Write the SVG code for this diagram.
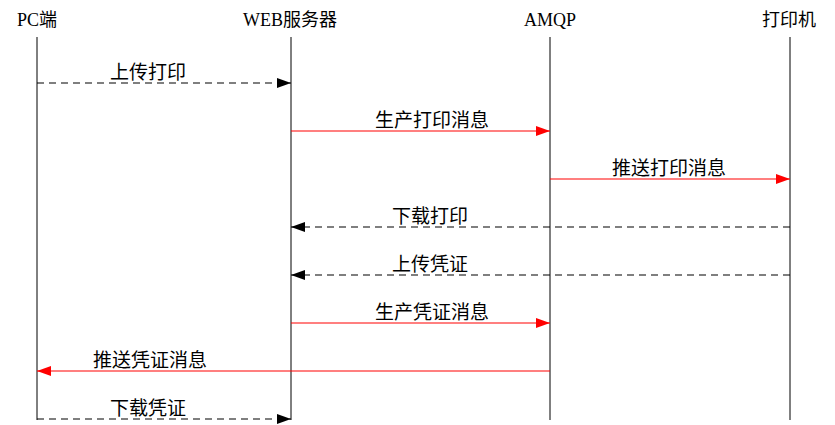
<svg xmlns="http://www.w3.org/2000/svg" width="835" height="425" viewBox="0 0 835 425">
<style>
.hdr{font-family:"Liberation Serif","Noto Sans CJK SC",serif;font-size:18px;fill:#000;text-anchor:middle}
.lbl{font-family:"Liberation Sans","Noto Sans CJK SC",sans-serif;font-size:19px;fill:#000}
.life{stroke:#000;stroke-width:1;fill:none}
.dash{stroke:#000;stroke-width:1.2;stroke-dasharray:7,5;fill:none}
.solid{stroke:#f00;stroke-width:1.1;fill:none}
</style>
<defs>
<marker id="ab" markerWidth="14" markerHeight="10" refX="14" refY="5" orient="auto" markerUnits="userSpaceOnUse"><path d="M0,0 L14,5 L0,10 Z" fill="#000"/></marker>
<marker id="ar" markerWidth="14" markerHeight="10" refX="14" refY="5" orient="auto" markerUnits="userSpaceOnUse"><path d="M0,0 L14,5 L0,10 Z" fill="#f00"/></marker>
</defs>
<rect width="835" height="425" fill="#fff"/>
<g id="pc"><text class="hdr" x="37" y="26">PC端</text><line class="life" x1="37" y1="37" x2="37" y2="420"/></g>
<g id="web"><text class="hdr" x="290" y="26">WEB服务器</text><line class="life" x1="291" y1="37" x2="291" y2="420"/></g>
<g id="amqp"><text class="hdr" x="550" y="26">AMQP</text><line class="life" x1="550" y1="37" x2="550" y2="420"/></g>
<g id="printer"><text class="hdr" x="789" y="26">打印机</text><line class="life" x1="790" y1="37" x2="790" y2="420"/></g>
<g id="connectors">
<line class="dash" x1="37" y1="83" x2="291" y2="83" marker-end="url(#ab)"/>
<text class="lbl" x="110" y="79">上传打印</text>
<line class="solid" x1="291" y1="131" x2="550" y2="131" marker-end="url(#ar)"/>
<text class="lbl" x="375" y="127">生产打印消息</text>
<line class="solid" x1="550" y1="179" x2="790" y2="179" marker-end="url(#ar)"/>
<text class="lbl" x="612" y="175">推送打印消息</text>
<line class="dash" x1="790" y1="227" x2="291" y2="227" marker-end="url(#ab)"/>
<text class="lbl" x="392" y="223">下载打印</text>
<line class="dash" x1="790" y1="275" x2="291" y2="275" marker-end="url(#ab)"/>
<text class="lbl" x="392" y="271">上传凭证</text>
<line class="solid" x1="291" y1="323" x2="550" y2="323" marker-end="url(#ar)"/>
<text class="lbl" x="375" y="319">生产凭证消息</text>
<line class="solid" x1="550" y1="371" x2="37" y2="371" marker-end="url(#ar)"/>
<text class="lbl" x="93" y="367">推送凭证消息</text>
<line class="dash" x1="37" y1="419" x2="291" y2="419" marker-end="url(#ab)"/>
<text class="lbl" x="110" y="415">下载凭证</text>
</g>
</svg>
